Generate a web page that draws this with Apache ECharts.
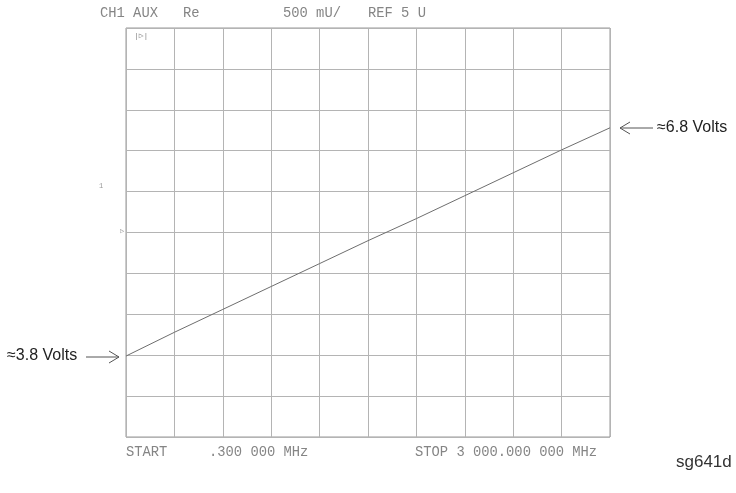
<!DOCTYPE html>
<html>
<head>
<meta charset="utf-8">
<script src="https://cdn.jsdelivr.net/npm/echarts@6/dist/echarts.min.js"></script>
<style>html,body{margin:0;padding:0;background:#fff;}#c{width:736px;height:493px;}</style>
</head>
<body>
<div id="c"></div>
<script>
// Sweep frequency (MHz) and AUX input voltage (V)
var freqMHz = [0.3, 300, 600, 900, 1200, 1500, 1800, 2100, 2400, 2700, 3000];
var volts   = [3.49, 3.78, 4.06, 4.34, 4.62, 4.90, 5.17, 5.45, 5.73, 6.01, 6.28];
var yMin = 2.5, yMax = 7.5, yStep = 0.5;
var xMin = 0, xMax = 3000, xStep = 300;
var headerTexts = ['CH1 AUX', 'Re', '500 mU/', 'REF 5 U'];
var footerTexts = ['START', '.300 000 MHz', 'STOP 3 000.000 000 MHz'];
var startNote = '\u22483.8 Volts';
var stopNote = '\u22486.8 Volts';
var figId = 'sg641d';

var chart = echarts.init(document.getElementById('c'), null, {renderer: 'canvas'});
var mono = '"Liberation Mono", "DejaVu Sans Mono", monospace';
var sans = '"Liberation Sans", Arial, sans-serif';
var gridColor = '#b4b4b4';
var monoFont = '13.8px ' + mono;
var txtGrey = '#858585';

chart.setOption({
  animation: false,
  backgroundColor: '#ffffff',
  grid: {left: 126, top: 28, width: 484, height: 409, show: true, borderColor: '#999999', borderWidth: 1},
  xAxis: {
    type: 'value', min: xMin, max: xMax, interval: xStep,
    axisLine: {show: false}, axisTick: {show: false}, axisLabel: {show: false},
    splitLine: {show: true, lineStyle: {color: gridColor, width: 1}}
  },
  yAxis: {
    type: 'value', min: yMin, max: yMax, interval: yStep,
    axisLine: {show: false}, axisTick: {show: false}, axisLabel: {show: false},
    splitLine: {show: true, lineStyle: {color: gridColor, width: 1}}
  },
  series: [{
    type: 'line',
    data: freqMHz.map(function (f, i) { return [f, volts[i]]; }),
    showSymbol: false,
    lineStyle: {color: '#6e6e6e', width: 1},
    silent: true
  }],
  graphic: [
    {type: 'text', left: 100, top: 6, style: {text: headerTexts[0], font: monoFont, fill: txtGrey}},
    {type: 'text', left: 183, top: 6, style: {text: headerTexts[1], font: monoFont, fill: txtGrey}},
    {type: 'text', left: 283, top: 6, style: {text: headerTexts[2], font: monoFont, fill: txtGrey}},
    {type: 'text', left: 368, top: 6, style: {text: headerTexts[3], font: monoFont, fill: txtGrey}},
    {type: 'text', left: 126, top: 445, style: {text: footerTexts[0], font: monoFont, fill: txtGrey}},
    {type: 'text', left: 209, top: 445, style: {text: footerTexts[1], font: monoFont, fill: txtGrey}},
    {type: 'text', left: 415, top: 445, style: {text: footerTexts[2], font: monoFont, fill: txtGrey}},
    {type: 'text', left: 134, top: 32, style: {text: '|\u25b7|', font: '8px ' + mono, fill: '#888'}},
    {type: 'text', left: 99, top: 183, style: {text: '1', font: '7px ' + mono, fill: '#999'}},
    {type: 'text', left: 120, top: 228, style: {text: '\u25b7', font: '7px ' + mono, fill: '#999'}},
    // left annotation
    {type: 'text', left: 7, top: 348, style: {text: startNote, font: '16px ' + sans, fill: '#222'}},
    {type: 'line', shape: {x1: 86, y1: 357, x2: 119, y2: 357}, style: {stroke: '#555', lineWidth: 1}},
    {type: 'polyline', shape: {points: [[109, 351], [119, 357], [109, 363]]}, style: {stroke: '#555', lineWidth: 1, fill: null}},
    // right annotation
    {type: 'text', left: 657, top: 120, style: {text: stopNote, font: '16px ' + sans, fill: '#222'}},
    {type: 'line', shape: {x1: 620, y1: 128, x2: 653, y2: 128}, style: {stroke: '#555', lineWidth: 1}},
    {type: 'polyline', shape: {points: [[630, 122], [620, 128], [630, 134]]}, style: {stroke: '#555', lineWidth: 1, fill: null}},
    {type: 'text', left: 676, top: 454, style: {text: figId, font: '17px ' + sans, fill: '#333'}}
  ]
});
</script>
</body>
</html>
